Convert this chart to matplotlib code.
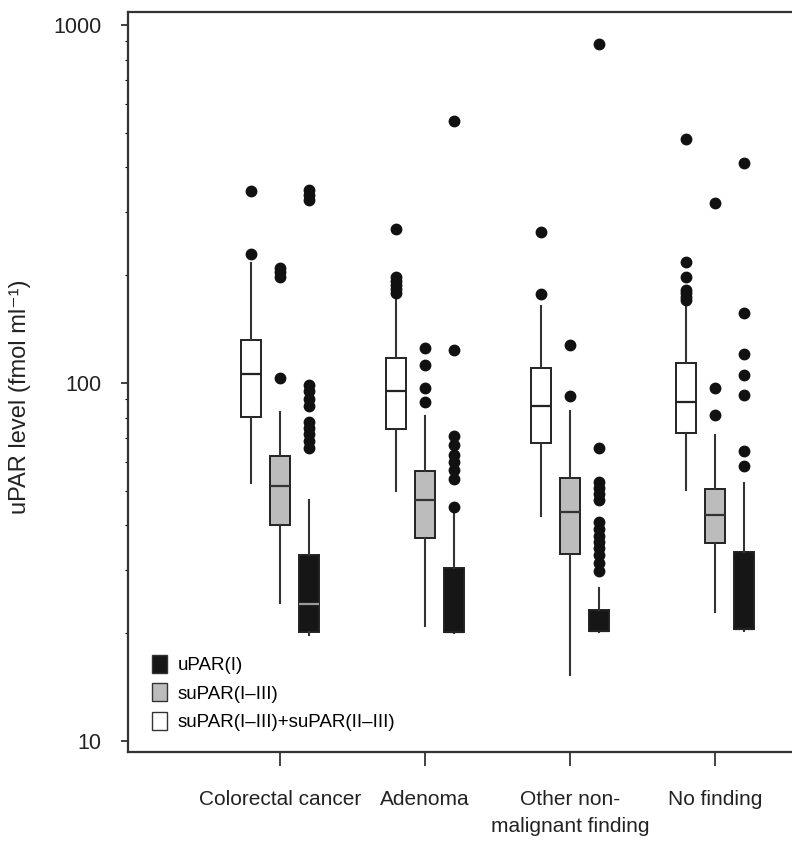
import matplotlib
matplotlib.use("Agg")
import matplotlib.pyplot as plt
from matplotlib.patches import Patch
from matplotlib.ticker import LogLocator, NullFormatter
import numpy as np

plt.rcParams['font.family'] = ['Liberation Sans', 'DejaVu Sans']

groups = ['Colorectal cancer', 'Adenoma', 'Other non-\nmalignant finding', 'No finding']

# suPAR(I-III)+suPAR(II-III)  (white boxes)
w_lo  = [52.5, 50, 42.6, 50.3]
w_q1  = [80.5, 74.5, 68, 72.3]
w_med = [106, 95, 86.4, 88.7]
w_q3  = [132, 117.5, 110, 113.8]
w_hi  = [216, 175, 164, 168]
w_out = [[229, 344],
         [178, 183, 188, 193, 198, 269],
         [177, 264],
         [171, 174, 178, 182, 198, 218, 479]]

# suPAR(I-III)  (grey boxes)
g_lo  = [24.3, 20.9, 15.3, 22.9]
g_q1  = [40.1, 37.0, 33.3, 35.7]
g_med = [51.7, 47.2, 43.7, 42.7]
g_q3  = [62.5, 56.8, 54.3, 50.7]
g_hi  = [83, 81, 83.5, 71.6]
g_out = [[103.5, 198, 204, 210],
         [88.3, 96.7, 112.5, 125],
         [91.9, 128],
         [81.6, 96.8, 319]]

# uPAR(I)  (black boxes)
b_lo  = [19.8, 20.0, 20.2, 20.3]
b_q1  = [20.2, 20.2, 20.3, 20.5]
b_med = [24.2, 20.2, 20.3, 20.5]
b_q3  = [33.1, 30.4, 23.3, 33.7]
b_hi  = [47, 43, 26.7, 52.5]
b_out = [[66, 69, 72, 75, 78, 86, 90, 95, 99, 325, 335, 345],
         [45, 54, 57, 60, 63, 67, 71, 124, 540],
         [29.9, 31.5, 33, 34.5, 36, 37.5, 39, 41, 47, 49, 51, 53, 65.9, 883],
         [58.6, 64.7, 92.3, 105, 120.8, 157, 412]]

labels = ['uPAR(I)', 'suPAR(I\u2013III)', 'suPAR(I\u2013III)+suPAR(II\u2013III)']

fig = plt.figure(figsize=(7.92, 8.46), dpi=100)
ax = fig.add_axes([128/792, 94/846, 672/792, 740/846])

def make_stats(lo, q1, med, q3, hi, out):
    return [dict(whislo=lo[i], q1=q1[i], med=med[i], q3=q3[i], whishi=hi[i],
                 fliers=out[i]) for i in range(len(lo))]

x = np.arange(len(groups))
series = [(make_stats(w_lo, w_q1, w_med, w_q3, w_hi, w_out), -0.2, 'white', '#222222'),
          (make_stats(g_lo, g_q1, g_med, g_q3, g_hi, g_out), 0.0, '#bcbcbc', '#333333'),
          (make_stats(b_lo, b_q1, b_med, b_q3, b_hi, b_out), 0.2, '#161616', '#9a9a9a')]

for st, off, fc, mc in series:
    bp = ax.bxp(st, positions=x + off, widths=0.14, patch_artist=True, showcaps=False,
                boxprops=dict(facecolor=fc, edgecolor='#222222', linewidth=1.4),
                medianprops=dict(color=mc, linewidth=1.6),
                whiskerprops=dict(color='#333333', linewidth=1.5),
                flierprops=dict(marker='o', markerfacecolor='#111111',
                                markeredgecolor='#111111', markersize=7.5))
    # median sitting on the box edge is not visible in the original
    for s, m in zip(st, bp['medians']):
        if s['med'] <= s['q1']:
            m.set_color('#222222')

ax.set_yscale('log')
ax.set_ylim(9.32, 1087)
ax.set_xlim(x[0] - 152/145, x[0] + 520/145)

ax.set_yticks([10, 100, 1000])
ax.set_yticklabels(['10', '100', '1000'])
ax.yaxis.set_minor_locator(LogLocator(base=10, subs=np.arange(2, 10)))
ax.yaxis.set_minor_formatter(NullFormatter())
ax.tick_params(axis='y', which='major', length=5, width=1.2, labelsize=15.5, pad=14,
               colors='#222222')
ax.tick_params(axis='y', which='minor', length=2, width=0.8)

ax.set_xticks(x)
ax.set_xticklabels(groups, linespacing=1.55)
ax.tick_params(axis='x', length=10, width=1.2, labelsize=15, pad=17, colors='#222222')

for s in ax.spines.values():
    s.set_linewidth(1.6)
    s.set_color('#333333')

ax.set_ylabel('uPAR level (fmol ml\u207b\u00b9)', fontsize=17, color='#222222')
ax.yaxis.set_label_coords(-0.145, 0.48)

handles = [Patch(facecolor=c, edgecolor='#333333', linewidth=1) for c in ['#161616', '#bcbcbc', 'white']]
ax.legend(handles, labels, loc='lower left', bbox_to_anchor=(0.01, 0.005), frameon=False,
          fontsize=13.5, handlelength=0.8, handleheight=1.1, handletextpad=0.6,
          labelspacing=0.5)

fig.savefig('out.png', dpi=100)
